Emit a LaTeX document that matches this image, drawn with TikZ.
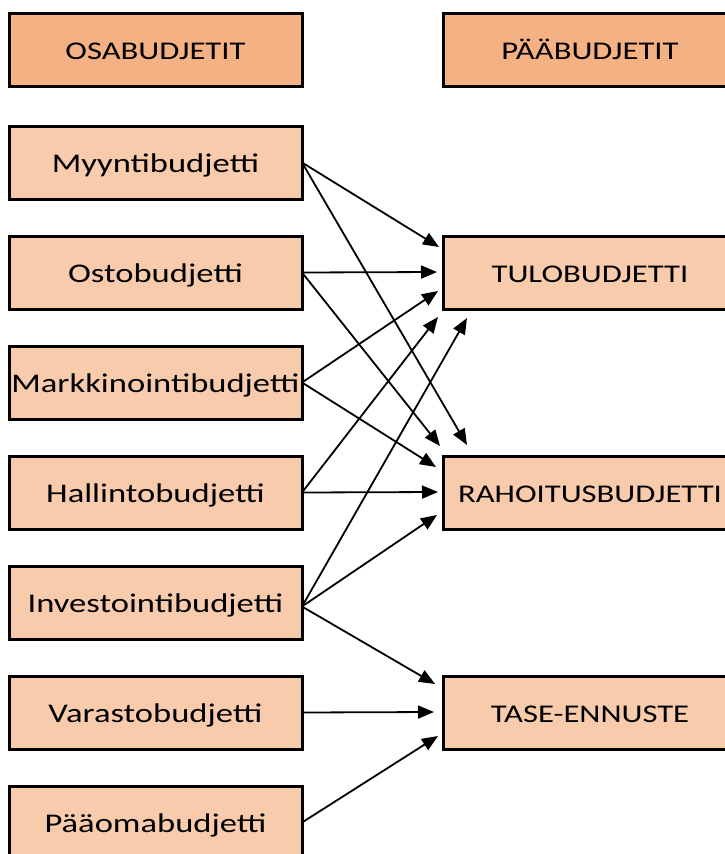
\documentclass[tikz,border=0pt]{standalone}
\usepackage{fontspec}
\setmainfont[FakeStretch=1.28]{Carlito}
\usetikzlibrary{arrows.meta}
\definecolor{headfill}{HTML}{F4B183}
\definecolor{boxfill}{HTML}{F8CBAD}
\tikzset{
  bbox/.style={draw=black, line width=3pt, minimum width=293pt, minimum height=73pt,
    inner sep=0pt, outer sep=0pt, text depth=0pt, text height=19pt, font=\fontsize{27}{32}\selectfont},
  headbox/.style={bbox, fill=headfill, font=\fontsize{25.5}{32}\selectfont},
  bodybox/.style={bbox, fill=boxfill},
  capbox/.style={bodybox, font=\fontsize{25.5}{32}\selectfont},
  arr/.style={line width=1.8pt, -{Triangle[length=16pt,width=13pt]}}
}
\begin{document}
\begin{tikzpicture}[x=1pt,y=-1pt]
\clip (0,0) rectangle (725,854);
\node[headbox] (oh) at (155.5,50) {OSABUDJETIT};
\node[headbox] (ph) at (590,50) {PÄÄBUDJETIT};
\node[bodybox] (m) at (155.5,162.5) {Myyntibudjetti};
\node[bodybox] (o) at (155.5,272.5) {Ostobudjetti};
\node[bodybox] (k) at (155.5,382.5) {Markkinointibudjetti};
\node[bodybox] (h) at (155.5,492.5) {Hallintobudjetti};
\node[bodybox] (i) at (155.5,602.5) {Investointibudjetti};
\node[bodybox] (v) at (155.5,712.5) {Varastobudjetti};
\node[bodybox] (p) at (155.5,822.5) {Pääomabudjetti};
\node[capbox] (t) at (590,272.5) {TULOBUDJETTI};
\node[capbox] (r) at (590,492.5) {RAHOITUSBUDJETTI};
\node[capbox] (s) at (590,712.5) {TASE-ENNUSTE};
\coordinate (mt) at (439,247);
\coordinate (mr) at (467,445);
\coordinate (ot) at (437,272);
\coordinate (or) at (440,446);
\coordinate (kt) at (438,291);
\coordinate (kr) at (436,467);
\coordinate (ht) at (438,317);
\coordinate (hr) at (438,492);
\coordinate (it) at (467,318);
\coordinate (ir) at (437,515);
\coordinate (is) at (435,684);
\coordinate (vs) at (434,712);
\coordinate (ps) at (438,736);
\draw[arr] (m.east) -- (mt);
\draw[arr] (m.east) -- (mr);
\draw[arr] (o.east) -- (ot);
\draw[arr] (o.east) -- (or);
\draw[arr] (k.east) -- (kt);
\draw[arr] (k.east) -- (kr);
\draw[arr] (h.east) -- (ht);
\draw[arr] (h.east) -- (hr);
\draw[arr] ([yshift=-4pt]i.east) -- (it);
\draw[arr] ([yshift=-4pt]i.east) -- (ir);
\draw[arr] ([yshift=-4pt]i.east) -- (is);
\draw[arr] (v.east) -- (vs);
\draw[arr] (p.east) -- (ps);
\end{tikzpicture}
\end{document}
